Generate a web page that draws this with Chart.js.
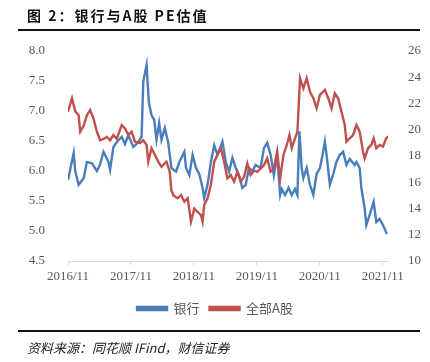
<!DOCTYPE html>
<html>
<head>
<meta charset="utf-8">
<script src="https://cdn.jsdelivr.net/npm/chart.js@4"></script>
<style>
  html, body { margin: 0; padding: 0; background: #fff; }
  #wrap { position: relative; width: 430px; height: 362px; }
  #chart { position: absolute; left: 0; top: 0; }
  .title { position: absolute; left: 27px; top: 5px; font: bold 14px "Noto Sans CJK SC", sans-serif; letter-spacing: 2px; color: #111; }
  .rule { position: absolute; left: 18px; width: 402px; height: 1.5px; background: #111; }
  .source { position: absolute; left: 27px; top: 338px; font: italic 13px "Noto Sans CJK SC", sans-serif; color: #222; }
</style>
</head>
<body>
<div id="wrap">
  <canvas id="chart" width="430" height="362"></canvas>
  <div class="title">图 2：银行与A股 PE估值</div>
  <div class="rule" style="top:29px"></div>
  <div class="rule" style="top:330px"></div>
  <div class="source">资料来源：同花顺 IFind，财信证券</div>
</div>
<script>
// months counted from 2016/11
const bankMonths = [0, 1.08, 1.38, 2.03, 2.98, 3.6, 4.55, 5.5, 6.07, 6.77, 7.72, 8.02, 8.66, 9.29, 10.24, 10.86, 11.5, 12.45, 13.4, 14.03, 14.35, 14.98, 15.4, 15.92, 16.43, 16.87, 17.38, 17.82, 18.45, 19.09, 19.72, 20.6, 21.23, 22.18, 22.5, 23.13, 23.75, 24.4, 25.02, 25.65, 25.97, 26.6, 27.24, 27.87, 28.49, 29.44, 30.08, 30.71, 31.34, 31.98, 32.6, 33.23, 33.88, 34.5, 35.13, 35.77, 36.72, 37.35, 37.97, 38.62, 39.24, 39.87, 40.44, 40.76, 41.38, 42.03, 42.65, 43.28, 43.73, 44.11, 44.55, 44.87, 45.5, 46.12, 46.77, 47.39, 48.02, 48.53, 48.97, 49.29, 49.92, 50.56, 51.18, 51.81, 52.45, 53.08, 53.71, 54.65, 54.98, 55.6, 55.92, 56.55, 56.87, 57.5, 58.26, 58.77, 59.39, 60.04, 60.8];
const bankPE = [5.85, 6.3, 6.0, 5.77, 5.88, 6.15, 6.13, 6.0, 6.1, 6.32, 6.15, 6.02, 6.4, 6.48, 6.57, 6.45, 6.6, 6.4, 6.48, 6.57, 7.49, 7.77, 7.15, 6.93, 6.85, 6.52, 6.8, 6.52, 6.72, 6.48, 6.05, 5.99, 6.15, 6.32, 6.05, 5.93, 6.27, 6.05, 5.95, 5.72, 5.55, 5.77, 6.15, 6.43, 6.27, 6.49, 6.15, 5.99, 6.22, 6.05, 5.93, 5.72, 5.77, 6.05, 6.0, 6.1, 6.05, 6.38, 6.47, 6.27, 5.93, 6.27, 5.6, 5.7, 5.6, 5.72, 5.6, 5.7, 5.6, 6.66, 6.05, 5.88, 6.05, 5.77, 5.6, 5.95, 6.05, 6.27, 6.49, 6.27, 5.77, 5.95, 6.15, 6.27, 6.32, 6.1, 6.2, 6.1, 6.15, 6.05, 5.72, 5.38, 5.1, 5.27, 5.49, 5.15, 5.2, 5.1, 4.95];

const allMonths = [0, 0.76, 1.38, 2.03, 2.33, 2.98, 3.6, 4.23, 4.87, 5.5, 6.12, 6.77, 7.39, 8.02, 8.66, 9.29, 10.24, 10.86, 11.5, 12.13, 12.76, 13.71, 14.35, 14.98, 15.3, 15.92, 16.55, 17.2, 17.82, 18.77, 19.39, 19.7, 20.1, 20.9, 21.55, 22.18, 22.81, 23.45, 24.08, 24.7, 25.35, 25.65, 25.97, 26.6, 27.24, 27.87, 28.49, 29.14, 29.76, 30.39, 31.03, 31.66, 32.28, 32.93, 33.55, 34.18, 34.82, 35.45, 36.08, 36.72, 37.35, 37.97, 38.62, 39.24, 39.87, 40.44, 41.08, 41.71, 42.22, 42.65, 43.28, 43.73, 43.92, 44.23, 44.87, 45.5, 46.12, 46.77, 47.39, 48.02, 48.97, 49.61, 50.24, 50.86, 51.5, 52.13, 52.76, 53.08, 53.71, 54.35, 54.98, 55.6, 56.24, 56.55, 57.19, 57.82, 58.26, 58.77, 59.39, 60.04, 60.66, 61.04];
const allPE = [21.38, 22.4, 21.4, 21.1, 19.85, 20.3, 21.1, 21.5, 20.85, 19.85, 19.2, 19.3, 19.45, 19.2, 19.6, 19.3, 20.36, 20.1, 19.6, 19.85, 19.09, 18.97, 19.2, 18.84, 17.57, 18.59, 18.1, 17.57, 17.18, 17.57, 16.8, 15.4, 15.0, 14.78, 15.03, 14.52, 14.78, 13.0, 14.0, 13.75, 13.5, 13.0, 14.26, 14.78, 15.8, 17.57, 18.1, 18.59, 17.57, 16.3, 16.55, 16.05, 16.8, 16.05, 16.4, 17.44, 16.55, 16.9, 16.8, 17.05, 17.3, 17.82, 16.8, 17.05, 18.33, 16.3, 18.1, 18.84, 19.6, 18.6, 19.35, 19.85, 21.38, 23.92, 23.15, 23.92, 22.9, 22.4, 21.63, 22.65, 23.03, 22.4, 21.63, 22.78, 22.4, 21.38, 20.36, 19.09, 19.35, 19.6, 20.36, 19.85, 18.33, 17.82, 18.59, 18.84, 19.35, 18.59, 18.84, 18.72, 19.35, 19.5];

const xTickLabels = ['2016/11', '2017/11', '2018/11', '2019/11', '2020/11', '2021/11'];
const seriesNames = ['银行', '全部A股'];

const toPoints = (xs, ys) => xs.map((x, i) => ({ x: x, y: ys[i] }));
const gray = '#595959';
const tickFont = { family: '"Liberation Serif", "Times New Roman", serif', size: 13 };

new Chart(document.getElementById('chart'), {
  type: 'line',
  data: {
    datasets: [
      {
        label: seriesNames[0],
        data: toPoints(bankMonths, bankPE),
        yAxisID: 'y',
        borderColor: '#4a7ebb',
        backgroundColor: '#4a7ebb',
        borderWidth: 2.4,
        pointRadius: 0,
        order: 1
      },
      {
        label: seriesNames[1],
        data: toPoints(allMonths, allPE),
        yAxisID: 'y2',
        borderColor: '#c0504d',
        backgroundColor: '#c0504d',
        borderWidth: 2.4,
        pointRadius: 0,
        order: 0
      }
    ]
  },
  options: {
    responsive: false,
    animation: false,
    layout: { padding: { top: 51, bottom: 37, left: 0, right: 0 } },
    plugins: {
      tooltip: { enabled: false },
      legend: {
        position: 'bottom',
        labels: {
          boxWidth: 30,
          boxHeight: 3,
          padding: 10,
          color: gray,
          font: { family: '"Noto Sans CJK SC", sans-serif', size: 13 },
          sort: (a, b) => a.datasetIndex - b.datasetIndex
        }
      }
    },
    scales: {
      x: {
        type: 'linear',
        min: 0,
        max: 61,
        afterBuildTicks: (s) => { s.ticks = [0, 12, 24, 36, 48, 60].map(v => ({ value: v })); },
        afterFit: (s) => { s.height = 31; },
        grid: { drawOnChartArea: false, tickLength: 4, color: '#d9d9d9' },
        border: { color: '#d9d9d9' },
        ticks: {
          color: gray,
          font: tickFont,
          padding: 4,
          maxRotation: 0,
          callback: (v) => xTickLabels[v / 12]
        }
      },
      y: {
        position: 'left',
        min: 4.5,
        max: 8.0,
        afterFit: (s) => { s.width = 68; },
        grid: { display: false },
        border: { display: false },
        ticks: { stepSize: 0.5, color: gray, font: tickFont, padding: 15, callback: (v) => v.toFixed(1) }
      },
      y2: {
        position: 'right',
        min: 10,
        max: 26,
        afterFit: (s) => { s.width = 42; },
        grid: { display: false },
        border: { display: false },
        ticks: { stepSize: 2, color: gray, font: tickFont, padding: 12 }
      }
    }
  }
});
</script>
</body>
</html>
